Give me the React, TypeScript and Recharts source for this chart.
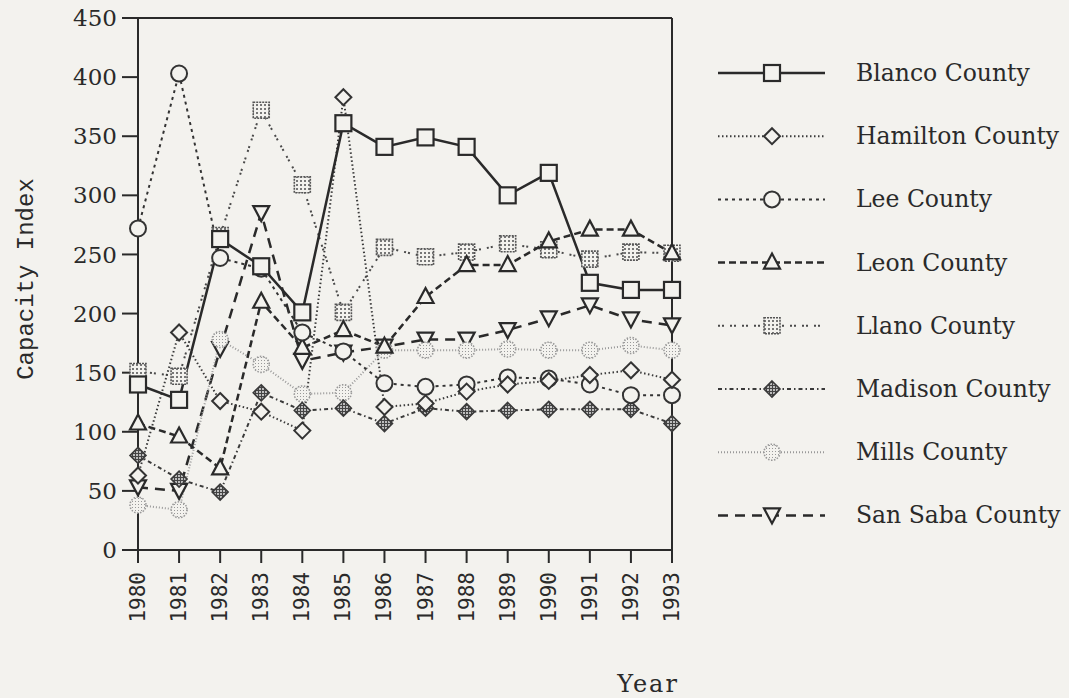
import React from 'react';
import {LineChart, Line, XAxis, YAxis, ReferenceLine, Legend, Label} from 'recharts';

const years = ['1980', '1981', '1982', '1983', '1984', '1985', '1986', '1987', '1988', '1989', '1990', '1991', '1992', '1993'];
const blanco = [140, 127, 263, 240, 201, 361, 341, 349, 341, 300, 319, 226, 220, 220];
const hamilton = [63, 184, 126, 117, 101, 383, 121, 124, 134, 140, 143, 148, 152, 144];
const lee = [272, 403, 247, 238, 184, 168, 141, 138, 140, 146, 145, 140, 131, 131];
const leon = [107, 96, 69, 210, 171, 186, 172, 214, 241, 241, 261, 271, 271, 251];
const llano = [151, 147, 266, 372, 309, 201, 256, 248, 252, 259, 254, 246, 252, 251];
const madison = [80, 60, 49, 133, 118, 120, 107, 120, 117, 118, 119, 119, 119, 107];
const mills = [38, 34, 178, 157, 132, 133, 169, 169, 169, 170, 169, 169, 173, 169];
const sanSaba = [53, 50, 170, 285, 160, 167, 172, 178, 178, 186, 196, 207, 195, 190];
const yTicks = [0, 50, 100, 150, 200, 250, 300, 350, 400, 450];

const rows = years.map((year, i) => ({
  year,
  blanco: blanco[i],
  hamilton: hamilton[i],
  lee: lee[i],
  leon: leon[i],
  llano: llano[i],
  madison: madison[i],
  mills: mills[i],
  sanSaba: sanSaba[i],
}));

const BG = '#f3f2ee';
const INK = '#2a2a2a';

type Kind = 'square' | 'diamond' | 'circle' | 'triangle' | 'hatchSquare' | 'hatchDiamond' | 'dotCircle' | 'invTriangle';

const series: {key: string; name: string; kind: Kind; stroke: string; width: number; dash?: string}[] = [
  {key: 'blanco', name: 'Blanco County', kind: 'square', stroke: INK, width: 2.5},
  {key: 'hamilton', name: 'Hamilton County', kind: 'diamond', stroke: '#3a3a3a', width: 2, dash: '1.5 2.5'},
  {key: 'lee', name: 'Lee County', kind: 'circle', stroke: '#333', width: 2, dash: '3 4'},
  {key: 'leon', name: 'Leon County', kind: 'triangle', stroke: INK, width: 2.5, dash: '7 4'},
  {key: 'llano', name: 'Llano County', kind: 'hatchSquare', stroke: '#4a4a4a', width: 2, dash: '2 2 2 6'},
  {key: 'madison', name: 'Madison County', kind: 'hatchDiamond', stroke: '#3a3a3a', width: 2, dash: '4 3 1.5 3'},
  {key: 'mills', name: 'Mills County', kind: 'dotCircle', stroke: '#999', width: 2, dash: '1 2'},
  {key: 'sanSaba', name: 'San Saba County', kind: 'invTriangle', stroke: INK, width: 2.5, dash: '10 7'},
];

const Marker = ({cx, cy, kind}: {cx: number; cy: number; kind: Kind}) => {
  if (cx == null || cy == null) return null;
  const s = 8;
  switch (kind) {
    case 'square':
      return <rect x={cx - s} y={cy - s} width={2 * s} height={2 * s} fill={BG} stroke={INK} strokeWidth={2.2} />;
    case 'diamond':
      return <polygon points={`${cx},${cy - s} ${cx + s},${cy} ${cx},${cy + s} ${cx - s},${cy}`} fill={BG} stroke="#333" strokeWidth={2} />;
    case 'circle':
      return <circle cx={cx} cy={cy} r={s} fill={BG} stroke="#333" strokeWidth={2} />;
    case 'triangle':
      return <polygon points={`${cx},${cy - 9} ${cx + 8},${cy + 6} ${cx - 8},${cy + 6}`} fill={BG} stroke={INK} strokeWidth={2.2} />;
    case 'hatchSquare':
      return <rect x={cx - s} y={cy - s} width={2 * s} height={2 * s} fill="url(#llanoPat)" stroke="#555" strokeWidth={1.6} strokeDasharray="2 1" />;
    case 'hatchDiamond':
      return <polygon points={`${cx},${cy - s} ${cx + s},${cy} ${cx},${cy + s} ${cx - s},${cy}`} fill="url(#madPat)" stroke="#3a3a3a" strokeWidth={1.6} />;
    case 'dotCircle':
      return <circle cx={cx} cy={cy} r={s} fill="url(#millsPat)" stroke="#999" strokeWidth={1.6} strokeDasharray="1.5 1.5" />;
    case 'invTriangle':
      return <polygon points={`${cx - 8},${cy - 7} ${cx + 8},${cy - 7} ${cx},${cy + 8}`} fill={BG} stroke={INK} strokeWidth={2.2} />;
  }
  return null;
};

const XTick = (props: any) => {
  const {x, y, payload} = props;
  const tx = x + 7;
  const ty = y + 7;
  return (
    <text x={tx} y={ty} transform={`rotate(-90 ${tx} ${ty})`} textAnchor="end" fontFamily="DejaVu Sans Mono" fontSize={21} fill={INK}>
      {payload.value}
    </text>
  );
};

const LegendBox = () => (
  <svg width={369} height={500}>
    {series.map((s, i) => {
      const y = 33 + i * 63.2;
      return (
        <g key={s.key}>
          <line x1={18} x2={125} y1={y} y2={y} stroke={s.stroke} strokeWidth={s.width} strokeDasharray={s.dash} />
          <Marker cx={72} cy={y} kind={s.kind} />
          <text x={156} y={y} dominantBaseline="central" fontFamily="DejaVu Serif" fontSize={23.5} fill={INK}>
            {s.name}
          </text>
        </g>
      );
    })}
  </svg>
);

// drawn bottom-up so Blanco ends on top, as in the original
const drawOrder = [...series].reverse();

export default function App() {
  return (
    <div style={{position: 'absolute', left: 0, top: 0, width: 1069, height: 698, background: BG}}>
      <svg width={0} height={0} style={{position: 'absolute'}}>
        <defs>
          <pattern id="llanoPat" width={4} height={4} patternUnits="userSpaceOnUse">
            <rect width={4} height={4} fill={BG} />
            <rect width={2} height={2} fill="#777" />
          </pattern>
          <pattern id="madPat" width={3} height={3} patternUnits="userSpaceOnUse">
            <rect width={3} height={3} fill="#bdbdbd" />
            <rect width={3} height={1} fill="#444" />
            <rect width={1} height={3} fill="#444" />
          </pattern>
          <pattern id="millsPat" width={3} height={3} patternUnits="userSpaceOnUse">
            <rect width={3} height={3} fill={BG} />
            <rect width={1} height={1} fill="#999" />
          </pattern>
        </defs>
      </svg>
      <LineChart width={1069} height={698} data={rows} margin={{top: 18, right: 397, bottom: 0, left: 0}}>
        <XAxis
          dataKey="year"
          type="category"
          interval={0}
          height={148}
          tickSize={13}
          tick={<XTick />}
          axisLine={{stroke: INK, strokeWidth: 2}}
          tickLine={{stroke: INK, strokeWidth: 2}}
        >
          <Label
            content={() => (
              <text x={648} y={692} textAnchor="middle" fontFamily="DejaVu Serif" fontSize={24} letterSpacing={2} fill={INK}>
                Year
              </text>
            )}
          />
        </XAxis>
        <YAxis
          domain={[0, 450]}
          ticks={yTicks}
          width={138}
          tickSize={16}
          tickMargin={5}
          tick={{fill: INK, fontSize: 23, fontFamily: 'DejaVu Serif'}}
          axisLine={{stroke: INK, strokeWidth: 2}}
          tickLine={{stroke: INK, strokeWidth: 2}}
        >
          <Label
            content={() => (
              <text x={33} y={279} transform="rotate(-90 33 279)" textAnchor="middle" fontFamily="Liberation Mono" fontSize={24} fill={INK}>
                Capacity Index
              </text>
            )}
          />
        </YAxis>
        <ReferenceLine y={450} stroke={INK} strokeWidth={2} />
        <ReferenceLine x="1993" stroke={INK} strokeWidth={2} />
        {drawOrder.map((s) => (
          <Line
            key={s.key}
            dataKey={s.key}
            name={s.name}
            type="linear"
            stroke={s.stroke}
            strokeWidth={s.width}
            strokeDasharray={s.dash}
            isAnimationActive={false}
            activeDot={false}
            dot={(p: any) => <Marker key={`${s.key}-${p.index}`} cx={p.cx} cy={p.cy} kind={s.kind} />}
          />
        ))}
        <Legend
          layout="vertical"
          align="center"
          verticalAlign="middle"
          content={() => <LegendBox />}
          wrapperStyle={{left: 700, top: 40, width: 369, height: 500}}
        />
      </LineChart>
    </div>
  );
}
